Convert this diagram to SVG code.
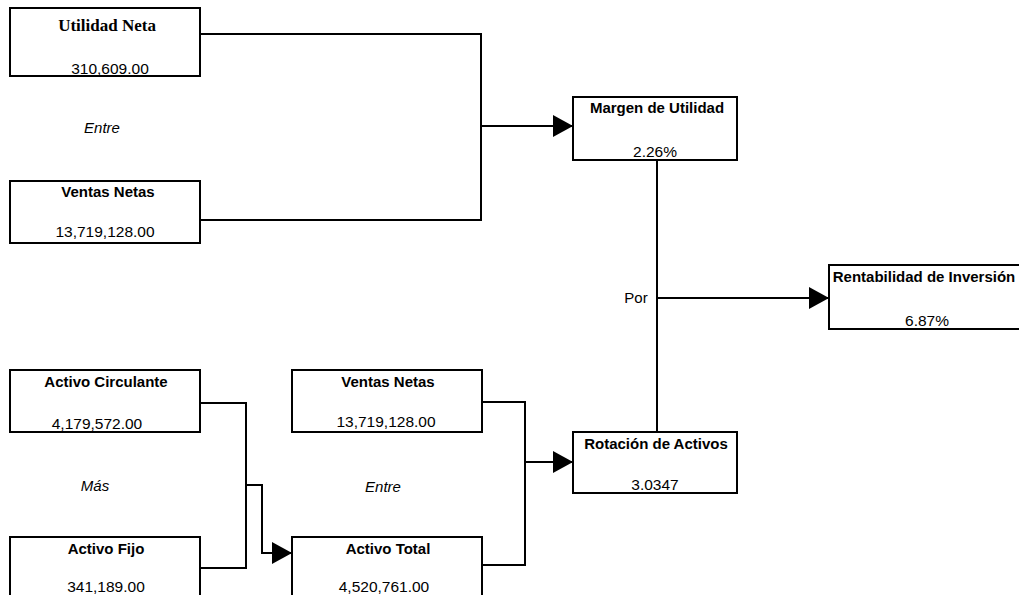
<svg xmlns="http://www.w3.org/2000/svg" width="1019" height="595" viewBox="0 0 1019 595">
<style>
.box{fill:#fff;stroke:#000;stroke-width:2}
.t{font-family:"Liberation Sans",Arial,sans-serif;font-weight:bold;font-size:15px;text-anchor:middle;fill:#000}
.ts{font-family:"Liberation Serif","Times New Roman",serif;font-weight:bold;font-size:17px;text-anchor:middle;fill:#000}
.v{font-family:"Liberation Sans",Arial,sans-serif;font-size:15.5px;text-anchor:middle;fill:#000}
.i{font-family:"Liberation Sans",Arial,sans-serif;font-style:italic;font-size:15px;text-anchor:middle;fill:#000}
.p{font-family:"Liberation Sans",Arial,sans-serif;font-size:15px;text-anchor:middle;fill:#000}
.c{fill:none;stroke:#000;stroke-width:2}
</style>
<defs>
<marker id="arr" viewBox="0 0 20 22" refX="20" refY="11" markerWidth="20" markerHeight="22" markerUnits="userSpaceOnUse" orient="auto">
<path d="M0,0 L20,11 L0,22 Z" fill="#000"/>
</marker>
</defs>
<rect width="1019" height="595" fill="#fff"/>
<g id="connectors">
<polyline class="c" points="200,34 481,34 481,220 200,220"/>
<line class="c" x1="481" y1="126" x2="573" y2="126" marker-end="url(#arr)"/>
<line class="c" x1="657" y1="160" x2="657" y2="432"/>
<line class="c" x1="657" y1="298" x2="829" y2="298" marker-end="url(#arr)"/>
<polyline class="c" points="200,403 246,403 246,568 200,568"/>
<polyline class="c" points="246,485 262,485 262,553 292,553" marker-end="url(#arr)"/>
<polyline class="c" points="482,402 525,402 525,565 482,565"/>
<line class="c" x1="525" y1="462" x2="573" y2="462" marker-end="url(#arr)"/>
</g>
<g id="utilidad-neta">
<rect class="box" x="10" y="8" width="190" height="68"/>
<text class="ts" x="107" y="31">Utilidad Neta</text>
<text class="v" x="110" y="74">310,609.00</text>
</g>
<text class="i" x="102" y="133">Entre</text>
<g id="ventas-netas-1">
<rect class="box" x="10" y="181" width="190" height="62"/>
<text class="t" x="108" y="197">Ventas Netas</text>
<text class="v" x="105" y="237">13,719,128.00</text>
</g>
<g id="margen-utilidad">
<rect class="box" x="573" y="97" width="164" height="63"/>
<text class="t" x="657" y="113">Margen de Utilidad</text>
<text class="v" x="655" y="157">2.26%</text>
</g>
<text class="p" x="636" y="303">Por</text>
<g id="rentabilidad">
<rect class="box" x="829" y="265" width="200" height="64"/>
<text class="t" x="924" y="282">Rentabilidad de Inversión</text>
<text class="v" x="927" y="326">6.87%</text>
</g>
<g id="activo-circulante">
<rect class="box" x="10" y="370" width="190" height="62"/>
<text class="t" x="106" y="387">Activo Circulante</text>
<text class="v" x="97" y="429">4,179,572.00</text>
</g>
<text class="i" x="95" y="491">Más</text>
<g id="activo-fijo">
<rect class="box" x="10" y="537" width="190" height="70"/>
<text class="t" x="106" y="554">Activo Fijo</text>
<text class="v" x="106" y="592">341,189.00</text>
</g>
<g id="ventas-netas-2">
<rect class="box" x="292" y="370" width="190" height="62"/>
<text class="t" x="388" y="387">Ventas Netas</text>
<text class="v" x="386" y="427">13,719,128.00</text>
</g>
<text class="i" x="383" y="492">Entre</text>
<g id="activo-total">
<rect class="box" x="292" y="537" width="190" height="70"/>
<text class="t" x="388" y="554">Activo Total</text>
<text class="v" x="384" y="592">4,520,761.00</text>
</g>
<g id="rotacion-activos">
<rect class="box" x="573" y="432" width="164" height="61"/>
<text class="t" x="656" y="449">Rotación de Activos</text>
<text class="v" x="655" y="490">3.0347</text>
</g>
</svg>
